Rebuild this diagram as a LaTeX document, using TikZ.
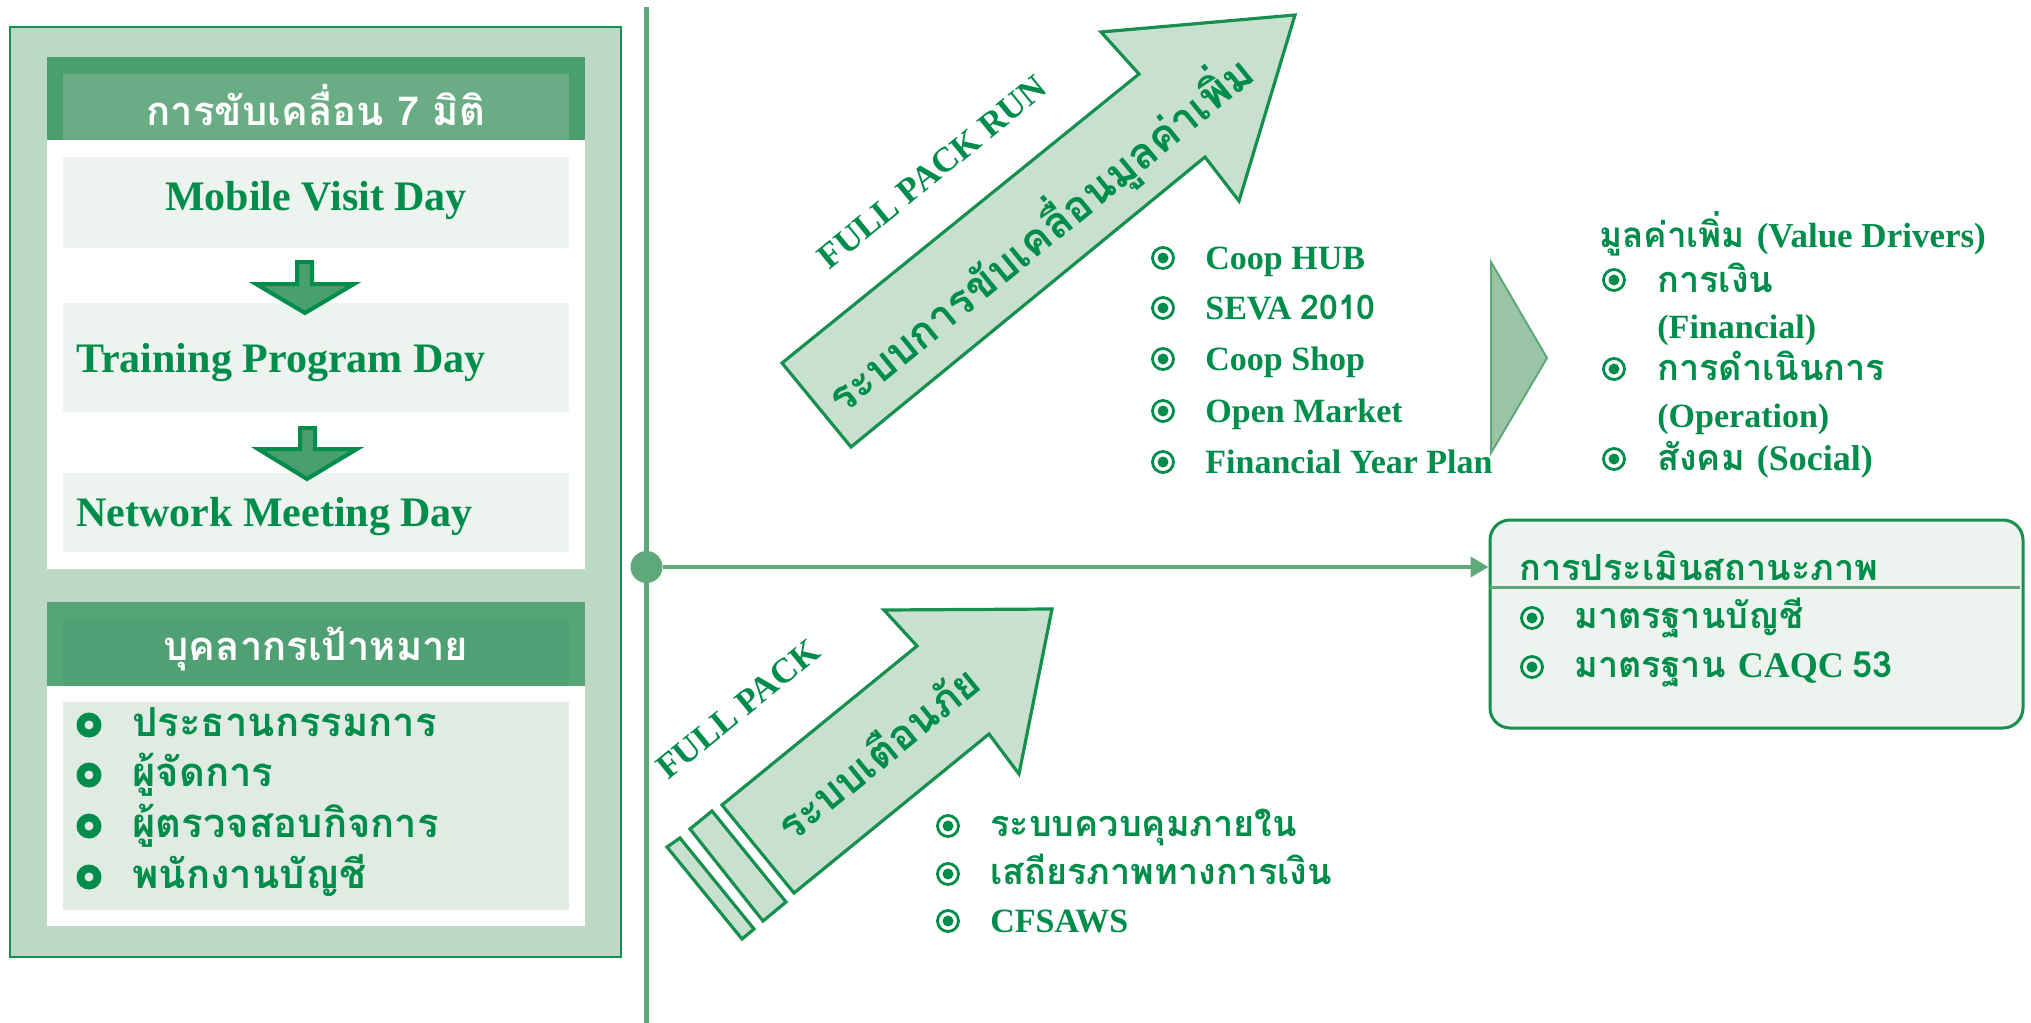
\documentclass[tikz,border=0pt]{standalone}
\usepackage{fontspec}
\setmainfont{Liberation Serif}
\newfontfamily\thai[Script=Thai]{Loma}
\usetikzlibrary{arrows.meta}
\definecolor{dg}{HTML}{008C4A}
\definecolor{outerfill}{HTML}{BDD9C6}
\definecolor{hdark}{HTML}{4A9F6E}
\definecolor{hlight}{HTML}{6AAD84}
\definecolor{hdarkb}{HTML}{55A577}
\definecolor{hlightb}{HTML}{4FA072}
\definecolor{boxfill}{HTML}{EDF3EE}
\definecolor{listfill}{HTML}{E0ECE3}
\definecolor{linecol}{HTML}{5FA87A}
\definecolor{arrowfill}{HTML}{C8E0D0}
\definecolor{chevfill}{HTML}{9BC5A6}
\definecolor{bordercol}{HTML}{178F4E}
\tikzset{
  hdrtext/.style={text=white, font=\thai\bfseries\fontsize{20}{24}\selectfont, inner sep=0pt},
  daytext/.style={text=dg, font=\bfseries\fontsize{21}{24}\selectfont, inner sep=0pt, anchor=base west},
  thaiitem/.style={text=dg, font=\thai\bfseries\fontsize{20}{24}\selectfont, inner sep=0pt, anchor=base west},
  item/.style={text=dg, font=\bfseries\fontsize{17}{20}\selectfont, inner sep=0pt, anchor=base west},
  thaismall/.style={text=dg, font=\thai\bfseries\fontsize{17.5}{20}\selectfont, inner sep=0pt, anchor=base west},
  thaimid/.style={text=dg, font=\thai\bfseries\fontsize{18}{20}\selectfont, inner sep=0pt, anchor=base west},
  downarrow/.style={draw=dg, line width=2pt, fill=hdark, line join=miter},
  bigarrow/.style={draw=bordercol, line width=1.6pt, fill=arrowfill, line join=miter},
  rotlabel/.style={text=dg, font=\bfseries\fontsize{17.5}{20}\selectfont, inner sep=0pt, rotate=39.2},
  rotthai/.style={text=dg, font=\thai\bfseries\fontsize{21.5}{24}\selectfont, inner sep=0pt, rotate=39.2},
}
\newcommand{\ringbullet}[1]{\fill[dg] #1 circle (12.5); \fill[listfill] #1 circle (4.5);}
\newcommand{\dotbullet}[1]{\draw[dg, line width=1.4pt] #1 circle (10.5); \fill[dg] #1 circle (5.5);}
\begin{document}
\begin{tikzpicture}[x=0.5pt,y=-0.5pt]
\useasboundingbox (0,0) rectangle (2031,1023);
% ---------- left panel ----------
\draw[bordercol, line width=1.2pt, fill=outerfill] (10,27) rectangle (621,957);
\fill[white] (47,57) rectangle (585,569);
\fill[hdark] (47,57) rectangle (585,140);
\fill[hlight] (63,74) rectangle (569,140);
\node[hdrtext] (hdrA) at (316,105) {การขับเคลื่อน 7 มิติ};
\fill[boxfill] (63,157) rectangle (569,248);
\node[daytext, anchor=base] (mvd) at (316,210) {Mobile Visit Day};
\fill[boxfill] (63,303) rectangle (569,412);
\node[daytext] (tpd) at (76,372) {Training Program Day};
\fill[boxfill] (63,473) rectangle (569,552);
\node[daytext] (nmd) at (76,526) {Network Meeting Day};
\draw[downarrow] (297,262) -- (312,262) -- (312,284) -- (354,284) -- (305,313) -- (256,284) -- (297,284) -- cycle;
\draw[downarrow] (300,428) -- (315,428) -- (315,449) -- (357,449) -- (307,479) -- (258,449) -- (300,449) -- cycle;
\fill[white] (47,602) rectangle (585,926);
\fill[hdarkb] (47,602) rectangle (585,686);
\fill[hlightb] (63,619) rectangle (569,686);
\node[hdrtext] (hdrB) at (316,649) {บุคลากรเป้าหมาย};
\fill[listfill] (63,702) rectangle (569,910);
\ringbullet{(89,725)}
\ringbullet{(89,775)}
\ringbullet{(89,826)}
\ringbullet{(89,877)}
\node[thaiitem] (p1) at (132,736) {ประธานกรรมการ};
\node[thaiitem] (p2) at (132,786) {ผู้จัดการ};
\node[thaiitem] (p3) at (132,837) {ผู้ตรวจสอบกิจการ};
\node[thaiitem] (p4) at (132,888) {พนักงานบัญชี};
% ---------- axis ----------
\coordinate (vtop) at (646.5,7);
\coordinate (vbot) at (646.5,1023);
\draw[linecol, line width=2.5pt] (vtop) -- (vbot);
\node[circle, fill=linecol, inner sep=0pt, minimum size=16pt] (dot) at (646.5,567) {};
% ---------- evaluation box ----------
\node[draw=bordercol, line width=1.5pt, fill=boxfill, rounded corners=10pt,
      minimum width=266.5pt, minimum height=104pt, inner sep=0pt] (evalbox) at (1756.5,624) {};
\draw[linecol, line width=2pt, -{Triangle[length=9pt,width=10pt]}] (dot) -- (dot -| evalbox.west);
\draw[linecol, line width=1.5pt] (1490,587) -- (2020,587);
\node[thaimid] (evalhdr) at (1519,580) {การประเมินสถานะภาพ};
\dotbullet{(1532,618)}
\dotbullet{(1532,667)}
\node[thaimid] (e1) at (1574,628) {มาตรฐานบัญชี};
\node[thaimid] (e2) at (1574,677) {มาตรฐาน \normalfont\bfseries CAQC {\thai 53}};
% ---------- big arrow ----------
\draw[bigarrow] (782,363) -- (1139,74) -- (1101,32) -- (1295,15) -- (1239,201) -- (1205,157) -- (851,447) -- cycle;
\node[rotlabel] (fpr) at (932,172) {FULL PACK RUN};
\node[rotthai] (vdtext) at (1040,234) {ระบบการขับเคลื่อนมูลค่าเพิ่ม};
\dotbullet{(1163,258)}
\dotbullet{(1163,308)}
\dotbullet{(1163,359)}
\dotbullet{(1163,411)}
\dotbullet{(1163,462)}
\node[item] (c1) at (1205,269) {Coop HUB};
\node[item] (c2) at (1205,319) {SEVA {\thai 2010}};
\node[item] (c3) at (1205,370) {Coop Shop};
\node[item] (c4) at (1205,422) {Open Market};
\node[item] (c5) at (1205,473) {Financial Year Plan};
\draw[linecol, line width=1pt, fill=chevfill] (1491,262) -- (1547,358) -- (1491,453) -- cycle;
% ---------- value drivers ----------
\node[thaismall] (vdt) at (1599,247) {มูลค่าเพิ่ม \normalfont\bfseries (Value Drivers)};
\dotbullet{(1614,280)}
\dotbullet{(1614,369)}
\dotbullet{(1614,459)}
\node[thaimid] (v1) at (1657,292) {การเงิน};
\node[item] (v1b) at (1657,338) {(Financial)};
\node[thaimid] (v2) at (1657,380) {การดำเนินการ};
\node[item] (v2b) at (1657,427) {(Operation)};
\node[thaimid] (v3) at (1657,470) {สังคม \normalfont\bfseries (Social)};
% ---------- small arrow ----------
\draw[bigarrow] (722,805) -- (917,646) -- (884,610) -- (1052,609) -- (1019,774) -- (989,734) -- (794,893) -- cycle;
\draw[bigarrow] (712,811) -- (690,829) -- (763,921) -- (786,902) -- cycle;
\draw[bigarrow] (680,838) -- (667,847) -- (742,939) -- (754,929) -- cycle;
\node[rotlabel] (fp) at (738,709) {FULL PACK};
\node[rotthai, font=\thai\bfseries\fontsize{21}{24}\selectfont] (wtext) at (877,752) {ระบบเตือนภัย};
\dotbullet{(948,826)}
\dotbullet{(948,874)}
\dotbullet{(948,921)}
\node[thaimid] (w1) at (990,836) {ระบบควบคุมภายใน};
\node[thaimid] (w2) at (990,884) {เสถียรภาพทางการเงิน};
\node[item] (w3) at (990,932) {CFSAWS};
\end{tikzpicture}
\end{document}
